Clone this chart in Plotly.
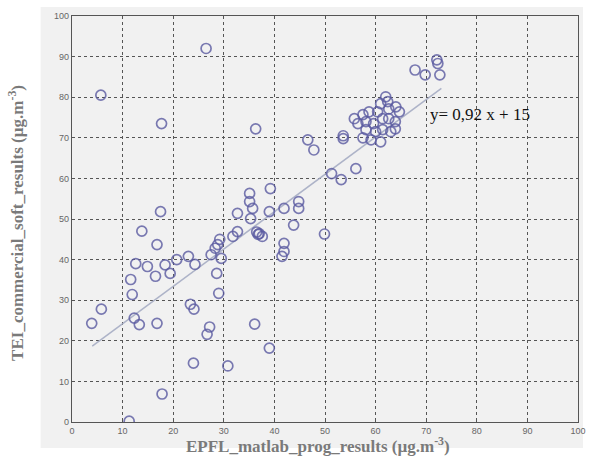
import plotly.graph_objects as go

# EPFL matlab program results (x) vs TEI commercial software results (y), µg.m-3
epfl = [
    5.7, 26.5, 17.7, 36.3, 17.5, 13.8, 16.8, 12.6, 14.9, 16.5,
    11.6, 18.4, 19.4, 20.7, 23.0, 24.3, 27.5, 28.3, 28.8, 29.2,
    29.5, 28.6, 29.0, 11.9, 12.3, 13.3, 16.8, 3.9, 5.8, 23.4,
    24.1, 27.2, 26.7, 36.1, 39.0, 24.0, 30.8, 17.8, 11.3,
    31.8, 32.7, 37.0, 37.6, 36.5, 36.8, 41.9, 41.9, 41.5, 39.2,
    35.1, 35.1, 35.7, 32.7, 35.3, 39.0, 41.9, 44.8, 44.8, 43.8,
    49.9, 46.6, 47.8, 51.3, 53.2, 56.1,
    53.6, 53.6, 55.8, 56.5, 57.5, 58.1, 58.7, 59.6, 60.4, 61.0,
    62.0, 62.4, 62.6, 64.0, 61.4, 62.6, 63.9, 63.9, 63.0, 61.4,
    60.0, 58.1, 59.1, 61.0, 57.5, 64.7,
    72.1, 72.3, 67.8, 69.8, 72.7,
]
tei = [
    80.5, 92.0, 73.5, 72.2, 51.8, 47.0, 43.7, 39.0, 38.3, 35.9,
    35.1, 38.7, 36.6, 40.0, 40.8, 38.8, 41.2, 42.8, 43.7, 45.0,
    40.3, 36.6, 31.7, 31.4, 25.6, 24.0, 24.3, 24.3, 27.8, 29.0,
    27.8, 23.4, 21.6, 24.1, 18.2, 14.5, 13.8, 6.9, 0.2,
    45.7, 46.9, 46.4, 45.7, 46.8, 46.2, 44.0, 42.0, 40.8, 57.5,
    56.3, 54.3, 52.6, 51.4, 50.1, 51.8, 52.6, 54.3, 52.6, 48.5,
    46.3, 69.5, 67.0, 61.2, 59.7, 62.4,
    69.8, 70.5, 74.7, 73.5, 75.7, 74.0, 76.4, 73.5, 76.4, 78.4,
    80.1, 78.9, 77.1, 77.6, 74.7, 74.7, 74.0, 72.2, 71.5, 72.0,
    71.5, 72.0, 69.5, 69.0, 70.0, 76.4,
    89.2, 88.3, 86.7, 85.5, 85.5,
]

# Linear fit stated on the chart: y = 0.92 x + 15
slope = 0.92
intercept = 15
fit_x = [4, 73]
fit_y = [slope * v + intercept for v in fit_x]

ticks = [0, 10, 20, 30, 40, 50, 60, 70, 80, 90, 100]

fig = go.Figure()

fig.add_trace(go.Scatter(
    x=fit_x, y=fit_y, mode="lines",
    line=dict(color="rgba(165,172,195,0.9)", width=1.5),
    hoverinfo="skip", showlegend=False,
))

fig.add_trace(go.Scatter(
    x=epfl, y=tei, mode="markers",
    marker=dict(symbol="circle-open", size=10,
                color="rgba(90,90,160,0.8)",
                line=dict(width=1.7, color="rgba(90,90,160,0.8)")),
    showlegend=False,
))

axis_common = dict(
    range=[0, 100], tickvals=ticks, ticktext=[str(t) for t in ticks],
    showgrid=True, gridcolor="#555555", griddash="dot", gridwidth=1,
    zeroline=False, showline=True, linecolor="#555555", linewidth=1.2,
    mirror=True, ticks="inside", ticklen=3, tickcolor="#555555",
    tickfont=dict(family="Liberation Sans", size=9, color="#666666"),
)

fig.update_xaxes(**axis_common)
fig.update_yaxes(**axis_common)

# Light grey figure panel behind the axes
fig.add_shape(
    type="rect", xref="paper", yref="paper",
    x0=-0.062, x1=1.01, y0=-0.064, y1=1.022,
    fillcolor="#f1f1f1", line=dict(width=0), layer="below",
)

fig.add_annotation(
    x=70.3, y=75.8, xref="x", yref="y", xanchor="left", yanchor="middle",
    text="y= 0,92 x + 15", showarrow=False,
    font=dict(family="Liberation Serif", size=17, color="#111111"),
)

fig.add_annotation(
    x=0.486, y=-0.056, xref="paper", yref="paper",
    xanchor="center", yanchor="middle",
    text="<b>EPFL_matlab_prog_results (µg.m<sup>-3</sup>)</b>", showarrow=False,
    font=dict(family="Liberation Serif", size=17, color="#7a7a7a"),
)

fig.add_annotation(
    x=-0.111, y=0.49, xref="paper", yref="paper",
    xanchor="center", yanchor="middle", textangle=-90,
    text="<b>TEI_commercial_soft_results (µg.m<sup>-3</sup>)</b>", showarrow=False,
    font=dict(family="Liberation Serif", size=17, color="#7a7a7a"),
)

fig.update_layout(
    width=597, height=461,
    margin=dict(l=72, r=11, t=14, b=39),
    paper_bgcolor="white", plot_bgcolor="#f1f1f1",
    showlegend=False,
)

fig.write_html("out.html")
